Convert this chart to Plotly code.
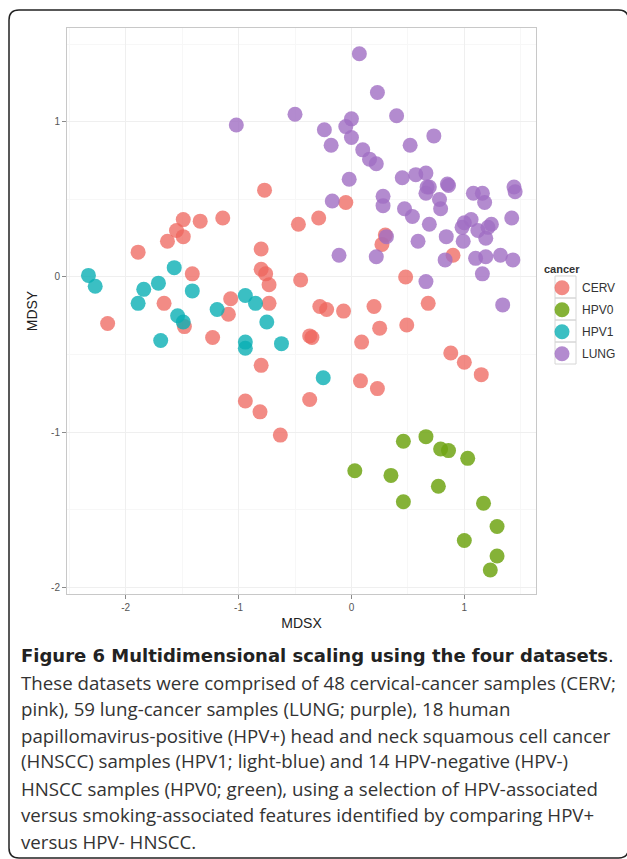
import plotly.graph_objects as go

# MDS coordinates
cerv_x = [-0.77, -0.05, -0.29, -0.47, -1.14, -1.34, -1.49, -1.55, -1.49, -1.63,
          -1.89, -0.80, 0.30, 0.27, 0.90, 0.48, -0.45, -1.41, -0.80, -0.76,
          -0.73, 0.68, 0.20, -0.07, -0.28, -0.22, -0.73, -1.07, -1.66, -2.16,
          -1.09, -1.48, -1.23, -0.37, -0.35, 0.25, 0.49, 0.09, 0.88, 1.00,
          1.15, -0.80, 0.08, 0.23, -0.37, -0.94, -0.81, -0.63]
cerv_y = [0.56, 0.48, 0.38, 0.34, 0.38, 0.36, 0.37, 0.30, 0.26, 0.23,
          0.16, 0.18, 0.27, 0.21, 0.14, 0.00, -0.02, 0.02, 0.05, 0.02,
          -0.05, -0.17, -0.19, -0.22, -0.19, -0.21, -0.17, -0.14, -0.17, -0.30,
          -0.24, -0.32, -0.39, -0.38, -0.39, -0.33, -0.31, -0.42, -0.49, -0.55,
          -0.63, -0.57, -0.67, -0.72, -0.79, -0.80, -0.87, -1.02]

hpv0_x = [0.46, 0.66, 0.79, 0.86, 1.03, 0.03, 0.35, 0.77, 0.46, 1.17, 1.29, 1.00, 1.29, 1.23]
hpv0_y = [-1.06, -1.03, -1.11, -1.12, -1.17, -1.25, -1.28, -1.35, -1.45, -1.46, -1.61, -1.70, -1.80, -1.89]

hpv1_x = [-2.33, -2.27, -1.57, -1.71, -1.84, -1.89, -1.41, -0.94, -0.85, -1.19,
          -1.54, -1.49, -0.75, -1.69, -0.94, -0.94, -0.62, -0.25]
hpv1_y = [0.01, -0.06, 0.06, -0.04, -0.08, -0.17, -0.09, -0.12, -0.17, -0.21,
          -0.25, -0.29, -0.29, -0.41, -0.42, -0.46, -0.43, -0.65]

lung_x = [0.07, 0.23, -0.50, -1.02, 0.40, -0.24, 0.00, -0.05, 0.00, -0.18,
          0.73, 0.52, 0.10, 0.16, 0.22, -0.02, 0.45, 0.57, 0.66, 0.67,
          0.69, 0.66, 0.85, 0.86, 0.78, 0.79, -0.17, 0.28, 0.28, 0.47,
          0.54, 0.69, 0.59, 0.84, 0.31, -0.11, 0.22, 0.66, 0.83, 1.08,
          1.16, 1.18, 1.44, 1.45, 1.42, 0.98, 1.00, 1.06, 1.12, 1.21,
          1.24, 1.19, 0.99, 1.10, 1.19, 1.32, 1.43, 1.16, 1.34]
lung_y = [1.44, 1.19, 1.05, 0.98, 1.04, 0.95, 1.02, 0.97, 0.90, 0.85,
          0.91, 0.85, 0.82, 0.76, 0.73, 0.63, 0.64, 0.66, 0.67, 0.58,
          0.58, 0.54, 0.60, 0.59, 0.50, 0.44, 0.49, 0.52, 0.46, 0.44,
          0.39, 0.34, 0.23, 0.26, 0.26, 0.14, 0.13, -0.03, 0.11, 0.54,
          0.54, 0.48, 0.58, 0.55, 0.38, 0.32, 0.35, 0.37, 0.30, 0.32,
          0.34, 0.25, 0.23, 0.12, 0.13, 0.14, 0.11, 0.02, -0.18]

groups = ['CERV', 'HPV0', 'HPV1', 'LUNG']
colors = ['rgba(238,100,92,0.75)', 'rgba(112,165,20,0.85)',
          'rgba(10,175,180,0.8)', 'rgba(160,110,195,0.8)']

x_ticks = [-2, -1, 0, 1]
x_ticktext = ['-2', '-1', '0', '1']
y_ticks = [-2, -1, 0, 1]
y_ticktext = ['-2', '-1', '0', '1']

caption_title = '<b>Figure 6 Multidimensional scaling using the four datasets</b>.'
caption_body = [
    'These datasets were comprised of 48 cervical-cancer samples (CERV;',
    'pink), 59 lung-cancer samples (LUNG; purple), 18 human',
    'papillomavirus-positive (HPV+) head and neck squamous cell cancer',
    '(HNSCC) samples (HPV1; light-blue) and 14 HPV-negative (HPV-)',
    'HNSCC samples (HPV0; green), using a selection of HPV-associated',
    'versus smoking-associated features identified by comparing HPV+',
    'versus HPV- HNSCC.',
]

# page geometry (pixels)
W, H = 627, 859
L, R, T, B = 67, 91, 28, 265
pw, ph = W - L - R, H - T - B


def px(p):
    return (p - L) / pw


def py(p):
    return (H - B - p) / ph


fig = go.Figure()

data = [(cerv_x, cerv_y), (hpv0_x, hpv0_y), (hpv1_x, hpv1_y), (lung_x, lung_y)]
for name, (xs, ys), c in zip(groups, data, colors):
    fig.add_trace(go.Scatter(
        x=xs, y=ys, mode='markers', name=name, legendgroup=name,
        marker=dict(size=15, color=c, line=dict(width=0)),
    ))

axis_common = dict(
    showline=True, mirror=True, linecolor='#C8C8C8', linewidth=1,
    gridcolor='#EFEFEF', gridwidth=1, zeroline=False,
    ticks='outside', ticklen=4, tickcolor='#8A8A8A',
    tickfont=dict(family='Liberation Sans', size=10, color='#555555'),
    minor=dict(dtick=0.5, showgrid=True, gridcolor='#F7F7F7', ticks=''),
    automargin=False,
)

fig.update_xaxes(range=[-2.52, 1.635], tickvals=x_ticks, ticktext=x_ticktext,
                 title=dict(text='MDSX', font=dict(family='Liberation Sans', size=14, color='#222222'),
                            standoff=6),
                 **axis_common)
fig.update_yaxes(range=[-2.045, 1.606], tickvals=y_ticks, ticktext=y_ticktext,
                 title=dict(text='MDSY', font=dict(family='Liberation Sans', size=14, color='#222222'),
                            standoff=10),
                 **axis_common)

# caption lines
fig.add_annotation(
    text=caption_title, xref='paper', yref='paper', x=px(19), y=py(655),
    xanchor='left', yanchor='middle', showarrow=False,
    font=dict(family='DejaVu Sans', size=18, color='#222222'),
)
line_y = [682, 708, 735, 761, 788, 814, 841]
for txt, yy in zip(caption_body, line_y):
    fig.add_annotation(
        text=txt, xref='paper', yref='paper', x=px(19), y=py(yy),
        xanchor='left', yanchor='middle', showarrow=False,
        font=dict(family='Open Sans', size=18.7, color='#333333'),
    )

# legend key boxes (ggplot style)
for k in range(len(groups)):
    fig.add_shape(type='rect', xref='paper', yref='paper',
                  x0=px(555), x1=px(576), y0=py(276 + 22 * k), y1=py(298 + 22 * k),
                  line=dict(color='#D6D6D6', width=1), fillcolor='rgba(0,0,0,0)')

# rounded outer frame (right edge sits just past the page)
l, r, t, b, rad = 9, 628.5, 10, 858, 10
path = (f'M {px(l)},{py(t + rad)} Q {px(l)},{py(t)} {px(l + rad)},{py(t)} '
        f'L {px(r - rad)},{py(t)} Q {px(r)},{py(t)} {px(r)},{py(t + rad)} '
        f'L {px(r)},{py(b - rad)} Q {px(r)},{py(b)} {px(r - rad)},{py(b)} '
        f'L {px(l + rad)},{py(b)} Q {px(l)},{py(b)} {px(l)},{py(b - rad)} Z')
fig.add_shape(type='path', path=path, xref='paper', yref='paper',
              line=dict(color='#222222', width=1.5))

fig.update_layout(
    width=W, height=H, autosize=False,
    margin=dict(l=L, r=R, t=T, b=B, autoexpand=False),
    paper_bgcolor='white', plot_bgcolor='white',
    font=dict(family='Liberation Sans'),
    legend=dict(
        x=px(542), xanchor='left', y=py(259), yanchor='top',
        title=dict(text='<b>cancer</b>', font=dict(size=11, color='#333333')),
        font=dict(size=12, color='#333333'),
        tracegroupgap=3, bgcolor='rgba(0,0,0,0)',
    ),
)

# the page body has an 8px default margin; drop it so the figure sits at 0,0
fig.write_html('out.html', config={'displayModeBar': False},
               post_script="document.body.style.margin='0';")
